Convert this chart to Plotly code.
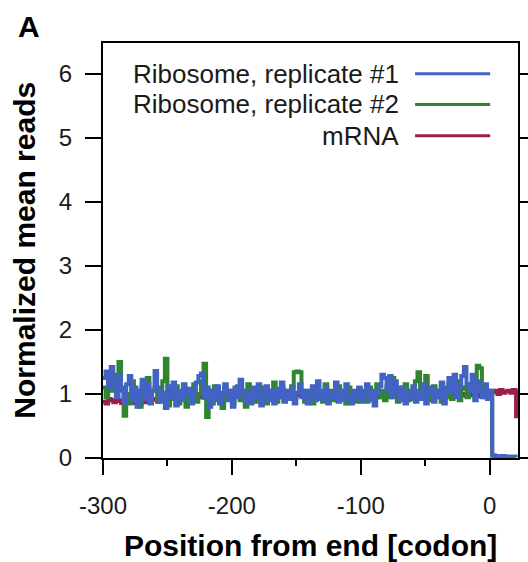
import plotly.graph_objects as go

# ---------------- data ----------------
# positions (codons from end), step 2 from -300 to 0
pos_main = list(range(-300, 1, 2))
pos_tail = [2, 4, 6, 8, 10, 12, 14, 16, 18, 20]
pos_mrna_tail = [2, 4, 6, 8, 10, 12, 14, 16, 18, 20, 20.5]

ribo1_main = [
    1.25, 1.35, 1.10, 1.42, 1.20, 0.95, 1.30, 1.05, 0.85, 1.15,
    1.28, 0.90, 1.10, 0.80, 1.05, 1.22, 0.92, 1.15, 0.85, 1.05,
    1.36, 1.10, 0.88, 1.02, 0.78, 1.12, 0.95, 1.18, 0.82, 1.05,
    0.90, 1.15, 0.98, 1.08, 0.85, 1.02, 1.18, 1.28, 1.32, 0.95,
    1.10, 0.80, 1.05, 0.92, 1.12, 0.85, 1.00, 1.15, 0.90, 1.05,
    0.80, 1.10, 0.95, 1.22, 1.05, 0.88, 1.02, 0.85, 1.10, 0.95,
    1.15, 0.82, 1.00, 1.12, 0.90, 1.05, 0.85, 1.08, 0.95, 1.18,
    0.88, 1.05, 0.92, 1.10, 0.85, 1.02, 1.15, 0.95, 1.05, 0.85,
    1.00, 1.12, 0.90, 1.20, 1.05, 0.92, 1.10, 0.85, 1.02, 0.95,
    1.18, 0.88, 1.05, 0.92, 1.15, 0.98, 0.85, 1.05, 0.95, 1.10,
    0.88, 1.02, 1.15, 0.90, 1.05, 0.82, 1.00, 1.12, 1.30, 1.25,
    1.05, 1.28, 0.95, 1.20, 1.05, 0.90, 1.10, 0.85, 1.02, 0.95,
    1.12, 0.88, 1.05, 0.92, 1.15, 0.85, 1.02, 1.10, 0.88, 1.05,
    0.95, 1.18, 0.85, 1.05, 1.25, 1.02, 1.30, 0.95, 1.12, 1.28,
    1.42, 1.15, 1.05, 1.30, 0.90, 1.20, 1.05, 0.95, 1.15, 0.92,
    1.05,
]
ribo1_tail = [0.04, 0.03, 0.03, 0.03, 0.03, 0.02, 0.02, 0.02, 0.02, 0.01]

ribo2_main = [
    1.10, 0.95, 1.20, 1.05, 1.30, 1.15, 1.50, 1.10, 0.66, 1.00,
    0.85, 1.20, 0.90, 1.05, 0.80, 1.15, 0.95, 1.25, 0.88, 1.05,
    1.10, 0.90, 1.05, 1.20, 1.55, 0.82, 1.05, 0.92, 1.12, 0.85,
    0.95, 1.10, 0.80, 1.05, 0.92, 1.15, 0.88, 1.00, 1.20, 1.47,
    0.64, 1.05, 0.85, 1.12, 0.90, 1.02, 0.78, 1.10, 0.95, 1.05,
    0.85, 1.00, 1.12, 0.90, 1.05, 0.80, 1.15, 0.95, 1.08, 0.88,
    1.02, 0.92, 1.10, 0.85, 1.05, 0.95, 1.18, 0.88, 1.00, 1.10,
    0.90, 1.05, 0.95, 1.12, 1.34, 1.35, 1.34, 1.05, 0.88, 1.02,
    1.05, 0.85, 1.10, 0.92, 1.02, 0.88, 1.15, 0.95, 1.05, 0.90,
    1.00, 1.12, 0.90, 1.05, 0.85, 1.10, 0.95, 1.02, 0.88, 1.08,
    0.95, 1.05, 0.88, 1.10, 0.92, 1.02, 1.15, 0.95, 1.05, 0.90,
    1.12, 0.95, 1.25, 1.02, 0.88, 1.10, 0.95, 1.15, 0.90, 1.05,
    0.92, 1.20, 1.34, 1.10, 0.95, 1.28, 1.05, 0.90, 1.12, 0.95,
    1.05, 0.88, 1.10, 0.95, 1.15, 0.92, 1.05, 1.20, 0.90, 1.08,
    1.10, 0.95, 1.15, 1.05, 1.25, 1.44, 1.40, 1.10, 0.95, 1.05,
    1.00,
]
ribo2_tail = [0.04, 0.03, 0.03, 0.03, 0.02, 0.02, 0.02, 0.02, 0.02, 0.01]

mrna_main = [
    0.88, 0.85, 0.92, 0.90, 0.87, 0.93, 0.89, 0.86, 0.91, 0.88,
    0.90, 0.86, 0.92, 0.88, 0.85, 0.90, 0.87, 0.93, 0.89, 0.91,
    0.92, 0.88, 0.95, 0.90, 0.93, 0.89, 0.96, 0.92, 0.94, 0.90,
    0.95, 0.92, 0.98, 0.94, 0.97, 0.93, 0.99, 0.95, 0.97, 0.94,
    0.97, 0.95, 1.00, 0.96, 0.99, 0.94, 0.98, 1.01, 0.96, 0.99,
    0.95, 0.98, 1.02, 0.97, 0.94, 0.99, 1.01, 0.96, 0.98, 0.95,
    1.00, 0.97, 0.95, 0.99, 1.02, 0.96, 0.98, 1.00, 0.95, 0.99,
    0.97, 1.01, 0.96, 0.99, 0.94, 0.98, 1.02, 0.97, 0.99, 0.96,
    1.00, 0.95, 0.98, 1.02, 0.97, 0.99, 0.96, 1.01, 0.98, 0.95,
    0.99, 1.02, 0.96, 0.98, 1.00, 0.95, 0.99, 1.03, 0.97, 0.98,
    0.96, 1.00, 0.98, 1.02, 0.97, 0.99, 0.95, 1.01, 0.98, 1.00,
    1.02, 0.99, 1.08, 1.04, 0.98, 1.00, 0.96, 1.01, 0.99, 0.97,
    1.00, 0.97, 1.02, 0.98, 0.96, 1.01, 0.99, 0.97, 1.03, 0.98,
    0.99, 1.02, 0.97, 1.00, 0.98, 1.01, 0.96, 0.99, 1.02, 0.98,
    1.00, 0.97, 1.01, 0.98, 1.03, 0.99, 0.96, 1.01, 0.98, 1.00,
    1.02,
]
mrna_tail = [1.03, 1.05, 1.00, 1.06, 1.02, 1.04, 1.05, 1.02, 1.06, 1.04, 0.62]

series_names = ["Ribosome, replicate #1", "Ribosome, replicate #2", "mRNA"]
x_tickvals = [-300, -200, -100, 0]
x_ticktext = ["-300", "-200", "-100", "0"]
y_tickvals = [0, 1, 2, 3, 4, 5, 6]

# ---------------- styling ----------------
BLUE = "#4262c4"
GREEN = "#2f862f"
RED = "#9c1f4a"
FONT = "Liberation Sans, Arial, Helvetica, sans-serif"
LW = 4

fig = go.Figure()
fig.add_trace(go.Scatter(x=pos_main + pos_mrna_tail, y=mrna_main + mrna_tail,
                         mode="lines", line=dict(color=RED, width=LW, shape="hv"),
                         name=series_names[2], showlegend=False))
fig.add_trace(go.Scatter(x=pos_main + pos_tail, y=ribo2_main + ribo2_tail,
                         mode="lines", line=dict(color=GREEN, width=LW, shape="hv"),
                         name=series_names[1], showlegend=False))
fig.add_trace(go.Scatter(x=pos_main + pos_tail, y=ribo1_main + ribo1_tail,
                         mode="lines", line=dict(color=BLUE, width=LW, shape="hv"),
                         name=series_names[0], showlegend=False))

# legend: text right-aligned, line sample to its right
legend_colors = [BLUE, GREEN, RED]
legend_rows_y = [6.0, 5.52, 5.03]
for name, col, yy in zip(series_names, legend_colors, legend_rows_y):
    fig.add_annotation(x=0.717, y=yy, xref="paper", yref="y", text=name,
                       showarrow=False, xanchor="right", yanchor="middle",
                       font=dict(family=FONT, size=26, color="#1a1a1a"))
    fig.add_shape(type="line", xref="paper", yref="y", x0=0.752, x1=0.933,
                  y0=yy, y1=yy, line=dict(color=col, width=3))

# panel label
fig.add_annotation(x=-0.178, y=1.0386, xref="paper", yref="paper", text="<b>A</b>",
                   showarrow=False, xanchor="center", yanchor="middle",
                   font=dict(family=FONT, size=30, color="black"))

# axis titles
fig.add_annotation(x=0.5, y=-0.21, xref="paper", yref="paper",
                   text="<b>Position from end [codon]</b>", showarrow=False,
                   xanchor="center", yanchor="middle",
                   font=dict(family=FONT, size=30, color="black"))
fig.add_annotation(x=-0.19, y=0.5, xref="paper", yref="paper",
                   text="<b>Normalized mean reads</b>", showarrow=False,
                   textangle=-90, xanchor="center", yanchor="middle",
                   font=dict(family=FONT, size=30, color="black"))

fig.update_xaxes(range=[-300, 22], tickvals=x_tickvals, ticktext=x_ticktext,
                 ticks="outside", ticklen=15, tickwidth=2, tickcolor="black",
                 showline=True, linecolor="black", linewidth=2, mirror=True,
                 showgrid=False, zeroline=False, automargin=False,
                 ticklabelstandoff=10,
                 minor=dict(tickvals=[-250, -150, -50], ticks="outside",
                            ticklen=6, tickwidth=2, tickcolor="black", showgrid=False),
                 tickfont=dict(family=FONT, size=24, color="#1a1a1a"))
fig.update_yaxes(range=[0, 6.48], tickvals=y_tickvals,
                 ticks="outside", ticklen=16, tickwidth=2, tickcolor="black",
                 showline=True, linecolor="black", linewidth=2, mirror="ticks",
                 showgrid=False, zeroline=False, automargin=False,
                 ticklabelstandoff=8,
                 tickfont=dict(family=FONT, size=24, color="#1a1a1a"))

fig.update_layout(width=528, height=562, margin=dict(l=103, r=10, t=43, b=104),
                  plot_bgcolor="white", paper_bgcolor="white", showlegend=False)

fig.write_html("out.html")
